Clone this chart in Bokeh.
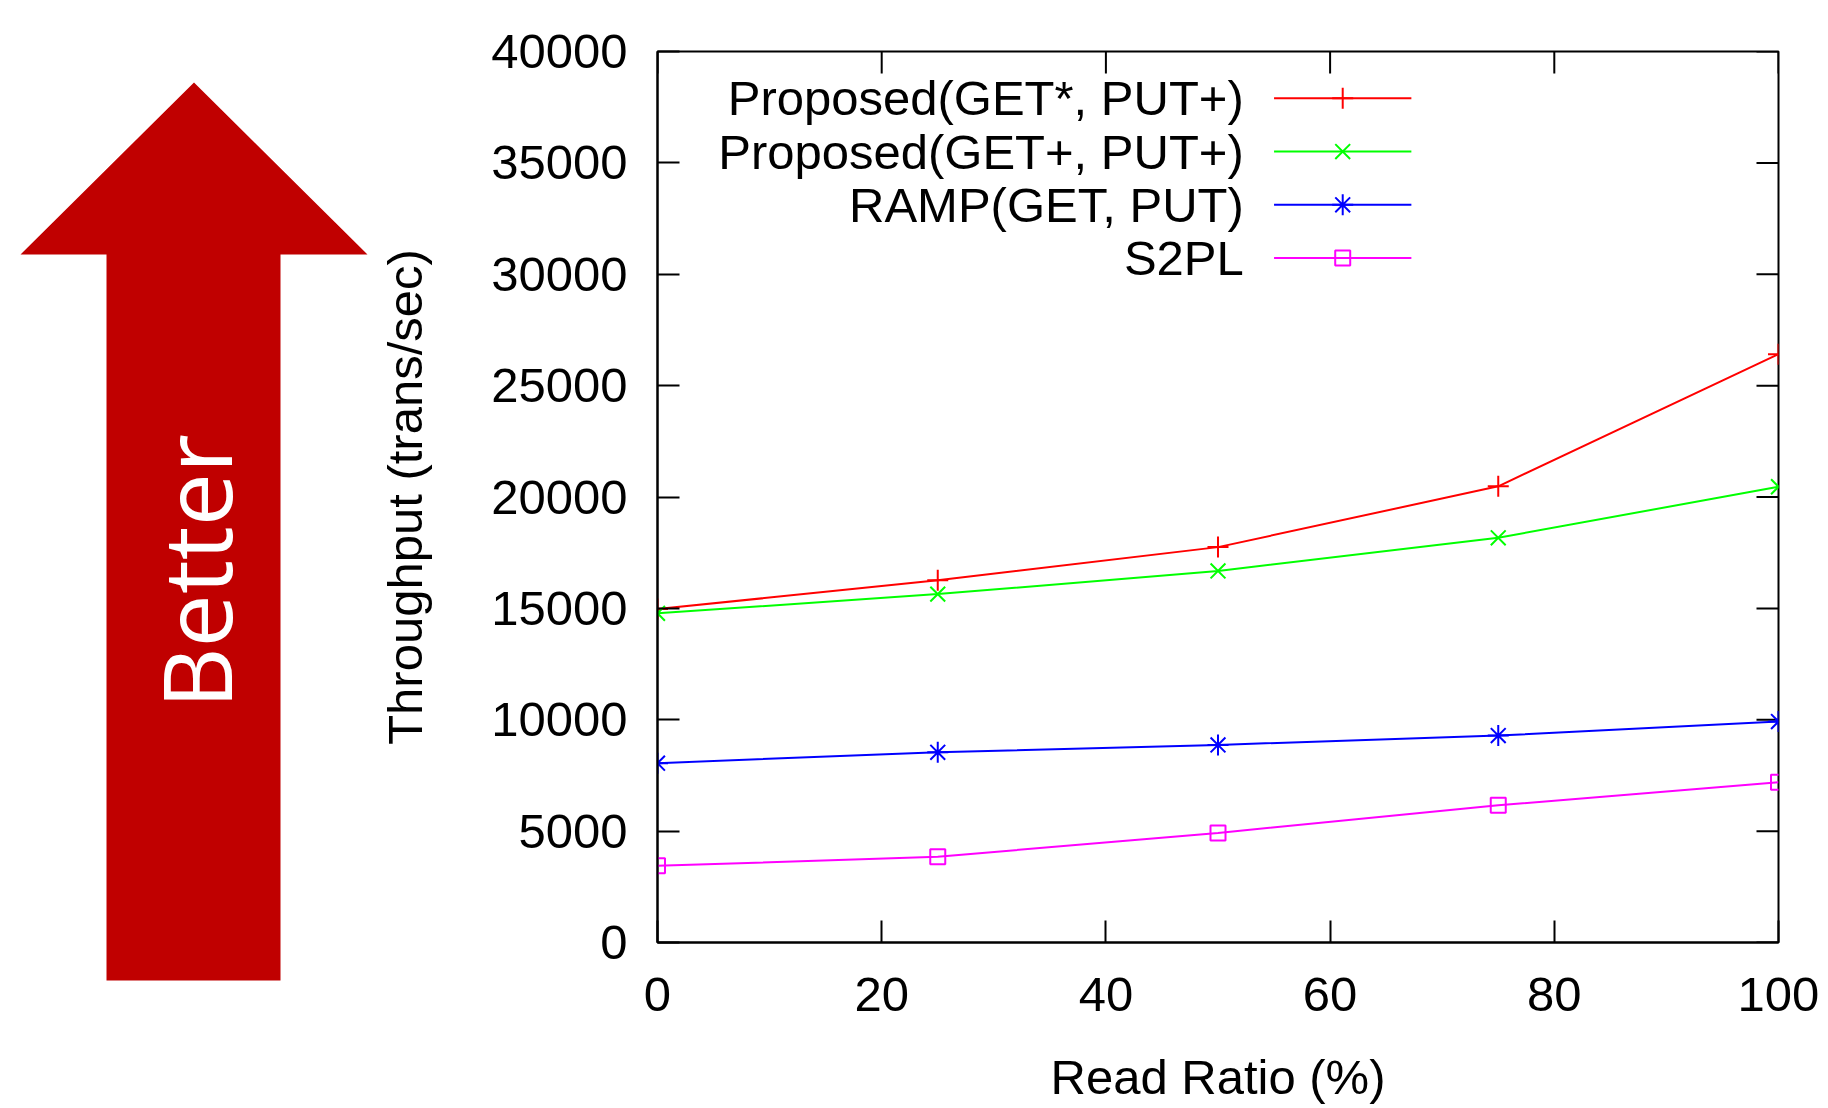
import numpy as np
from bokeh.plotting import figure
from bokeh.models import Range1d, FixedTicker
from bokeh.layouts import row
from bokeh.embed import file_html
from bokeh.resources import INLINE
from bokeh.core.properties import value

# ---------------- data ----------------
read_ratio = [0, 25, 50, 75, 100]
proposed_get_star = [14970, 16260, 17750, 20480, 26410]
proposed_get_plus = [14780, 15640, 16680, 18170, 20460]
ramp = [8050, 8540, 8870, 9290, 9920]
s2pl = [3440, 3850, 4920, 6160, 7190]
series_names = ["Proposed(GET*, PUT+)", "Proposed(GET+, PUT+)", "RAMP(GET, PUT)", "S2PL"]
series_values = [proposed_get_star, proposed_get_plus, ramp, s2pl]
x_ticks = [0, 20, 40, 60, 80, 100]
y_ticks = [0, 5000, 10000, 15000, 20000, 25000, 30000, 35000, 40000]
x_label = "Read Ratio (%)"
y_label = "Throughput (trans/sec)"
arrow_text = "Better"

# ---------------- styles / layout ----------------
styles = [
    dict(color="#FF0000", marker="cross", size=21),
    dict(color="#00FF00", marker="x", size=21),
    dict(color="#0000FF", marker="asterisk", size=21),
    dict(color="#FF00FF", marker="square", size=15),
]
FONT = "Liberation Sans"
FS = "49px"
H = 1106
W_TOTAL = 1824
W1 = 374
W2 = W_TOTAL - W1
FRAME_L, FRAME_R, FRAME_T, FRAME_B = 657, 1778, 51, 947
TICK_LEN = 22

# ---------------- main chart ----------------
p = figure(width=W2, height=H, x_range=Range1d(0, 100), y_range=Range1d(0, 40000),
           output_backend="svg", toolbar_location=None,
           min_border_left=FRAME_L - W1, min_border_right=W_TOTAL - FRAME_R,
           min_border_top=FRAME_T, min_border_bottom=H - FRAME_B)
p.frame_align = False
p.grid.visible = False
p.outline_line_color = "black"
p.outline_line_width = 2
p.background_fill_color = "white"
p.border_fill_color = "white"


def style_axis(ax):
    ax.axis_line_color = "black"
    ax.axis_line_width = 2
    ax.major_tick_in = TICK_LEN
    ax.major_tick_out = 0
    ax.minor_tick_in = 0
    ax.minor_tick_out = 0
    ax.major_tick_line_color = "black"
    ax.major_tick_line_width = 2
    ax.major_label_text_font = FONT
    ax.major_label_text_color = "black"
    ax.major_label_text_font_size = FS
    ax.axis_label_text_font = FONT
    ax.axis_label_text_font_style = "normal"
    ax.axis_label_text_color = "black"
    ax.axis_label_text_font_size = FS


xax = p.xaxis[0]
yax = p.yaxis[0]
style_axis(xax)
style_axis(yax)
xax.ticker = FixedTicker(ticks=x_ticks)
yax.ticker = FixedTicker(ticks=y_ticks)
xax.axis_label = x_label
yax.axis_label = y_label
xax.major_label_standoff = 35
xax.axis_label_standoff = 36
yax.major_label_standoff = 30
yax.axis_label_standoff = 56

# mirrored inward ticks on the top and right edges of the frame
x0r, x1r = p.x_range.start, p.x_range.end
y0r, y1r = p.y_range.start, p.y_range.end
dx = TICK_LEN * (x1r - x0r) / (FRAME_R - FRAME_L)
dy = TICK_LEN * (y1r - y0r) / (FRAME_B - FRAME_T)
p.segment(x0=x_ticks, y0=[y1r] * len(x_ticks), x1=x_ticks, y1=[y1r - dy] * len(x_ticks),
          line_color="black", line_width=2)
p.segment(x0=[x1r] * len(y_ticks), y0=y_ticks, x1=[x1r - dx] * len(y_ticks), y1=y_ticks,
          line_color="black", line_width=2)

for vals, st in zip(series_values, styles):
    p.line(read_ratio, vals, line_color=st["color"], line_width=2)
    p.scatter(read_ratio, vals, marker=st["marker"], size=st["size"],
              line_color=st["color"], fill_color=None, line_width=2)

# custom legend (labels on the left of the samples, top right of the frame)
xr = x1r - x0r
yr = y1r - y0r
leg_text_x = x0r + 0.523 * xr
leg_x0 = x0r + 0.550 * xr
leg_x1 = x0r + 0.6725 * xr
leg_xm = (leg_x0 + leg_x1) / 2
leg_y = [y0r + yr * (0.9475 - 0.0598 * i) for i in range(len(series_names))]

p.text(x=[leg_text_x] * len(series_names), y=leg_y, text=series_names,
       text_align="right", text_baseline="middle", text_color="black",
       text_font=value(FONT), text_font_size=FS)
for yy, st in zip(leg_y, styles):
    p.segment(x0=[leg_x0], y0=[yy], x1=[leg_x1], y1=[yy], line_color=st["color"], line_width=2)
    p.scatter([leg_xm], [yy], marker=st["marker"], size=st["size"],
              line_color=st["color"], fill_color=None, line_width=2)

# ---------------- arrow panel ----------------
a = figure(width=W1, height=H, x_range=Range1d(0, W1), y_range=Range1d(0, H),
           output_backend="svg", toolbar_location=None, x_axis_type=None, y_axis_type=None,
           min_border=0)
a.frame_align = False
a.outline_line_color = None
a.grid.visible = False
ax_pts = [193.5, 367, 280, 280, 106, 106, 20]
ay_pts = [82, 254, 254, 980, 980, 254, 254]
a.patch(ax_pts, [H - v for v in ay_pts], fill_color="#C00000", line_color=None)
a.text(x=[194.5], y=[H - 571], text=[arrow_text], angle=np.pi / 2,
       text_align="center", text_baseline="middle", text_color="white",
       text_font=value("Open Sans"), text_font_size="95px")

layout = row(a, p)
open("out.html", "w").write(file_html(layout, INLINE))
